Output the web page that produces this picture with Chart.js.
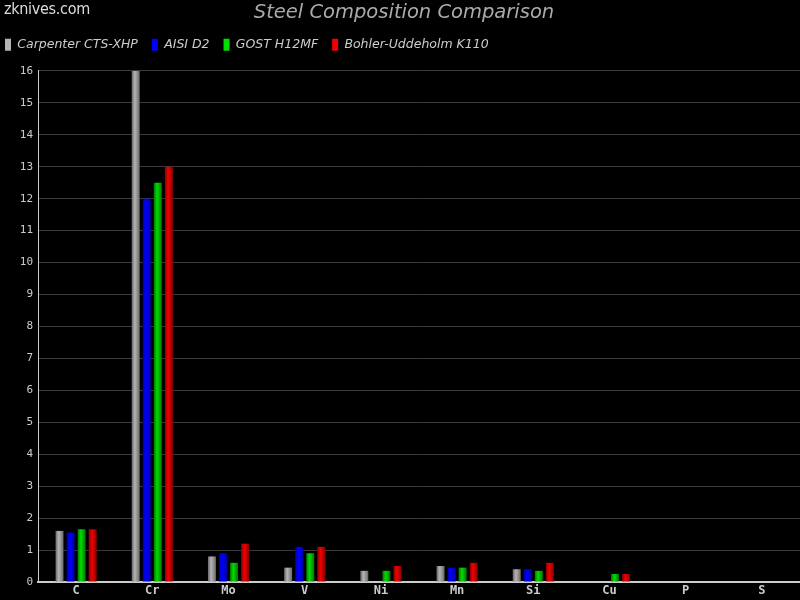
<!DOCTYPE html>
<html lang="en">
<head>
    <meta charset="UTF-8">
    <title>Steel Composition Comparison</title>
    <script src="https://cdn.jsdelivr.net/npm/chart.js@4.4.1/dist/chart.umd.min.js"></script>
    <style>
        html, body { margin: 0; padding: 0; background: #000; }
        .wrap { position: relative; width: 800px; height: 600px; }
        .brand { position: absolute; left: 4px; top: -1px; color: #ddd; font: 16px "DejaVu Sans Condensed", "DejaVu Sans", sans-serif; letter-spacing: -0.3px; }
    </style>
</head>
<body>
    <div class="wrap">
        <canvas id="steelChart" width="800" height="600"></canvas>
        <div class="brand">zknives.com</div>
    </div>

    <script>
        // elements and composition (%)
        const elements = ['C', 'Cr', 'Mo', 'V', 'Ni', 'Mn', 'Si', 'Cu', 'P', 'S'];
        const ctsXhp = [1.6, 16, 0.8, 0.45, 0.35, 0.5, 0.4, null, null, null];
        const aisiD2 = [1.55, 12, 0.9, 1.1, null, 0.45, 0.4, null, null, null];
        const gostH12mf = [1.65, 12.5, 0.6, 0.9, 0.35, 0.45, 0.35, 0.25, null, null];
        const k110 = [1.65, 13, 1.2, 1.1, 0.5, 0.6, 0.6, 0.25, null, null];
        const yTicks = [0, 1, 2, 3, 4, 5, 6, 7, 8, 9, 10, 11, 12, 13, 14, 15, 16];

        // edge / centre colours for the cylinder look
        const shades = [
            ['#6a6a6a', '#b4b4b4'],
            ['#0000a8', '#0000ff'],
            ['#007800', '#00dd00'],
            ['#880000', '#f00000']
        ];

        function hGradient(ctx, left, right, s) {
            const g = ctx.createLinearGradient(left, 0, right, 0);
            g.addColorStop(0, s[0]);
            g.addColorStop(0.4, s[1]);
            g.addColorStop(1, s[0]);
            return g;
        }

        // paint each bar with a horizontal gradient, nudge legend / title
        const barShade = {
            id: 'barShade',
            afterInit(chart) {
                const fit = chart.legend.fit;
                chart.legend.fit = function () { fit.call(this); this.height += 10; };
            },
            afterLayout(chart) {
                chart.legend.left -= 9;
                chart.legend.right -= 9;
                chart.titleBlock.left += 4;
                chart.titleBlock.right += 4;
            },
            beforeDatasetsDraw(chart) {
                const ctx = chart.ctx;
                chart.data.datasets.forEach((ds, i) => {
                    chart.getDatasetMeta(i).data.forEach(bar => {
                        const w = bar.width;
                        bar.options.backgroundColor = hGradient(ctx, bar.x - w / 2, bar.x + w / 2, shades[i]);
                    });
                });
            }
        };

        const mono = 'DejaVu Sans Mono';
        // scriptable colour so every bar gets its own options object
        const fillFor = i => () => shades[i][1];

        new Chart(document.getElementById('steelChart'), {
            type: 'bar',
            data: {
                labels: elements,
                datasets: [
                    { label: 'Carpenter CTS-XHP', data: ctsXhp, backgroundColor: fillFor(0) },
                    { label: 'AISI D2', data: aisiD2, backgroundColor: fillFor(1) },
                    { label: 'GOST H12MF', data: gostH12mf, backgroundColor: fillFor(2) },
                    { label: 'Bohler-Uddeholm K110', data: k110, backgroundColor: fillFor(3) }
                ]
            },
            options: {
                responsive: false,
                animation: false,
                categoryPercentage: 0.58,
                barPercentage: 0.72,
                plugins: {
                    title: {
                        display: true,
                        text: 'Steel Composition Comparison',
                        color: '#aaa',
                        font: { family: 'DejaVu Sans', size: 19.5, style: 'italic', weight: 'normal' },
                        padding: { top: 1, bottom: 0 }
                    },
                    legend: {
                        align: 'start',
                        labels: {
                            color: '#ccc',
                            boxWidth: 6,
                            boxHeight: 12,
                            padding: 14,
                            font: { family: 'DejaVu Sans', size: 12.5, style: 'italic' },
                            generateLabels(chart) {
                                return chart.data.datasets.map((ds, i) => ({
                                    text: ds.label,
                                    fillStyle: shades[i][1],
                                    strokeStyle: 'rgba(0,0,0,0)',
                                    lineWidth: 0,
                                    fontColor: '#ccc',
                                    datasetIndex: i
                                }));
                            }
                        }
                    },
                    tooltip: { enabled: false }
                },
                scales: {
                    x: {
                        grid: { display: false, drawTicks: false },
                        border: { color: '#ccc', width: 2 },
                        ticks: { color: '#ccc', padding: 2, font: { family: mono, size: 12, weight: 'bold' } },
                        afterFit(scale) { scale.height = 18; }
                    },
                    y: {
                        min: 0,
                        max: 16,
                        afterBuildTicks(scale) { scale.ticks = yTicks.map(v => ({ value: v })); },
                        grid: { color: '#3a3a3a', drawTicks: false },
                        border: { color: '#ccc', width: 1 },
                        ticks: { color: '#ccc', padding: 5, font: { family: mono, size: 11 } },
                        afterFit(scale) { scale.width = 38; }
                    }
                }
            },
            plugins: [barShade]
        });
    </script>
</body>
</html>
